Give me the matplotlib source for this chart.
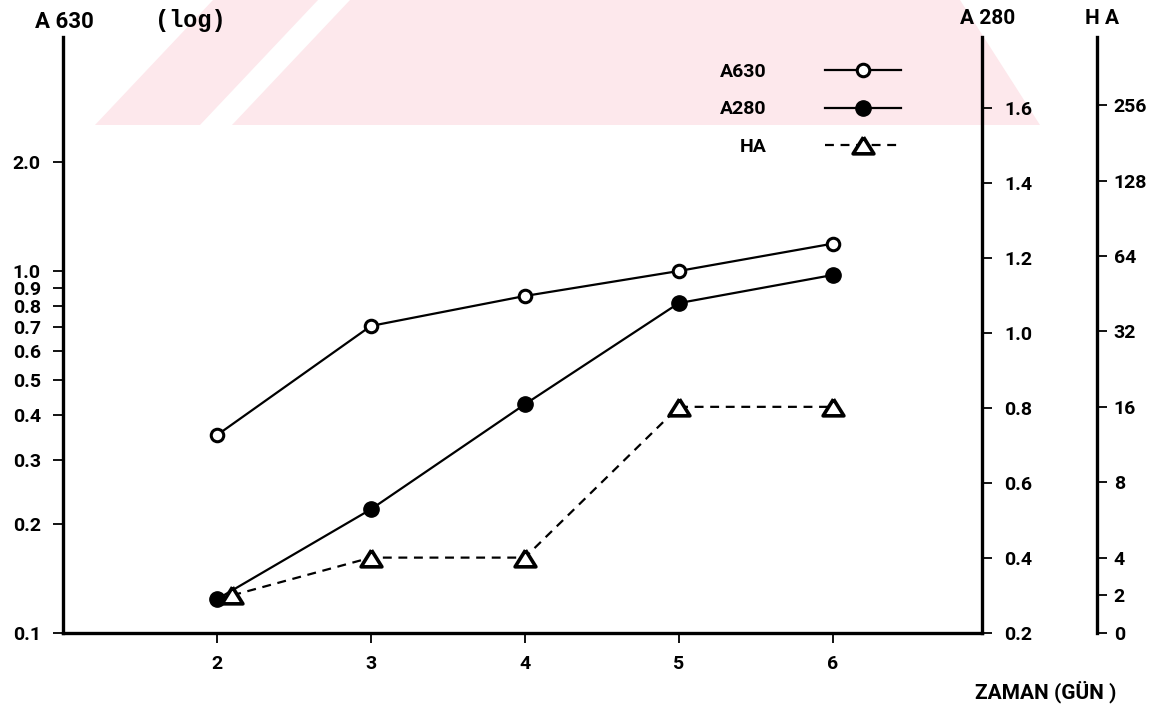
import numpy as np
import matplotlib.pyplot as plt
from matplotlib.patches import Polygon
from matplotlib.ticker import FixedLocator, NullLocator

# zaman (gün) ve ölçümler
days = [2, 3, 4, 5, 6]
a630 = [0.352, 0.705, 0.853, 1.0, 1.19]
a280 = [0.29, 0.53, 0.81, 1.08, 1.155]
ha_days = [2.1, 3, 4, 5, 6]
ha = [2, 4, 4, 16, 16]

a630_ticks = [0.1, 0.2, 0.3, 0.4, 0.5, 0.6, 0.7, 0.8, 0.9, 1.0, 2.0]
a630_labels = ['0.1', '0.2', '0.3', '0.4', '0.5', '0.6', '0.7', '0.8', '0.9', '1.0', '2.0']
a280_ticks = [0.2, 0.4, 0.6, 0.8, 1.0, 1.2, 1.4, 1.6]
ha_ticks = [0, 2, 4, 8, 16, 32, 64, 128, 256]

W, H = 1169, 712
FONT = ['Roboto', 'DejaVu Sans']


def px(x, y):
    return x / W, 1 - y / H


# HA ekseni: 4'ün üstü log2, altı doğrusal
def ha_fwd(v):
    v = np.asarray(v, dtype=float)
    return np.where(v >= 4, np.log2(np.maximum(v, 4)), 1 + v / 4)


def ha_inv(p):
    p = np.asarray(p, dtype=float)
    return np.where(p >= 2, 2 ** np.minimum(p, 60), 4 * (p - 1))


fig = plt.figure(figsize=(11.69, 7.12), dpi=100)

# arka plandaki soluk filigran
wm = '#fde8ec'
for verts in [
    [(95, 125), (213, 0), (318, 0), (200, 125)],
    [(232, 125), (350, 0), (960, 0), (1040, 125)],
]:
    fig.patches.append(Polygon([px(x, y) for x, y in verts], closed=True,
                               transform=fig.transFigure, facecolor=wm,
                               edgecolor='none', zorder=-10))

ax = fig.add_axes([63 / W, (H - 633) / H, (982 - 63) / W, (633 - 37) / H])
ax.patch.set_alpha(0)
ax.set_yscale('log')
ax.set_xlim(1.0, 6.97)
ax.set_ylim(0.1, 4.43)
for s in ['top', 'right']:
    ax.spines[s].set_visible(False)
for s in ['left', 'bottom']:
    ax.spines[s].set_linewidth(2.4)
ax.yaxis.set_major_locator(FixedLocator(a630_ticks))
ax.yaxis.set_minor_locator(NullLocator())
ax.set_yticklabels(a630_labels)
ax.set_xticks(days)
ax.set_xticklabels([str(d) for d in days])
ax.tick_params(axis='both', direction='out', length=7, width=1.3, pad=9,
               labelsize=14)

ax2 = ax.twinx()
ax2.set_ylim(0.2, 1.79)
for s in ['top', 'left', 'bottom']:
    ax2.spines[s].set_visible(False)
ax2.spines['right'].set_linewidth(2.4)
ax2.set_yticks(a280_ticks)
ax2.set_yticklabels(['%.1f' % t for t in a280_ticks])
ax2.tick_params(axis='y', direction='out', length=7, width=1.3, pad=9,
                labelsize=14)

ax3 = ax.twinx()
ax3.set_yscale('function', functions=(ha_fwd, ha_inv))
ax3.set_ylim(0, 2 ** 8.906)
for s in ['top', 'left', 'bottom']:
    ax3.spines[s].set_visible(False)
ax3.spines['right'].set_position(('axes', (1097 - 63) / (982 - 63)))
ax3.spines['right'].set_linewidth(2.4)
ax3.yaxis.set_major_locator(FixedLocator(ha_ticks))
ax3.yaxis.set_minor_locator(NullLocator())
ax3.set_yticklabels([str(t) for t in ha_ticks])
ax3.tick_params(axis='y', direction='out', length=7, width=1.3, pad=5,
                labelsize=14)

for a in (ax, ax2, ax3):
    for lab in a.get_xticklabels() + a.get_yticklabels():
        lab.set_family(FONT)
        lab.set_fontweight('bold')

l1, = ax.plot(days, a630, color='black', lw=1.6, marker='o', ms=9,
              mfc='white', mec='black', mew=2.2)
l2, = ax2.plot(days, a280, color='black', lw=1.6, marker='o', ms=11,
               mfc='black', mec='black')
tri = [(0, 0.8), (-1, -0.8), (1, -0.8), (0, 0.8)]
l3, = ax3.plot(ha_days, ha, color='black', lw=1.6, ls=(0, (4, 3)),
               marker=tri, ms=15, mfc='white', mec='black', mew=2.6)

leg = ax3.legend([l1, l2, l3], ['A630', 'A280', 'HA'], loc='upper left',
                 bbox_to_anchor=px(720, 63), bbox_transform=fig.transFigure,
                 frameon=False, markerfirst=False, handlelength=3.9,
                 handletextpad=3.0, labelspacing=1.0, borderpad=0,
                 borderaxespad=0, prop={'family': FONT, 'weight': 'bold',
                                        'size': 14})

fig.text(*px(35, 22), 'A 630', family=FONT, weight='bold', size=16,
         va='center', ha='left')
fig.text(*px(155, 20), '(log)', family='Liberation Mono', weight='bold',
         size=17, va='center', ha='left')
fig.text(*px(960, 18), 'A 280', family=FONT, weight='bold', size=15,
         va='center', ha='left')
fig.text(*px(1085, 18), 'H A', family=FONT, weight='bold', size=15,
         va='center', ha='left')
fig.text(*px(975, 692), 'ZAMAN (GÜN )', family=FONT, weight='bold',
         size=15, va='center', ha='left')

fig.savefig('out.png', dpi=100)
